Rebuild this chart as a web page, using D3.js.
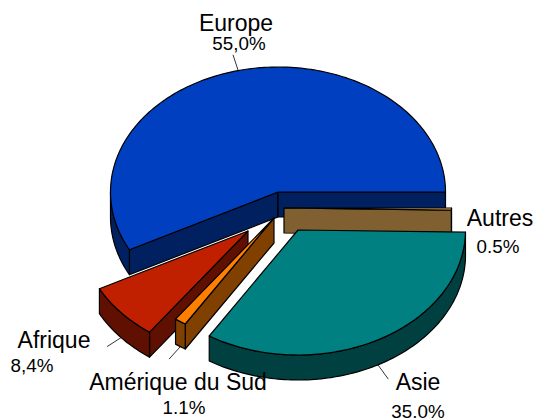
<!DOCTYPE html>
<html><head><meta charset="utf-8">
<script src="https://cdn.jsdelivr.net/npm/d3@7"></script>
<style>html,body{margin:0;padding:0;background:#fff}svg{display:block}text{font-family:"Liberation Sans",Arial,sans-serif;fill:#000}</style>
</head><body><svg id="c" width="534" height="418"></svg>
<script>
// Data (clockwise from 3 o'clock)
const categories = ["Autres","Asie","Amérique du Sud","Afrique","Europe"];
const values = [0.5,35.0,1.1,8.4,55.0];
const valueLabels = ["0.5%","35.0%","1.1%","8,4%","55,0%"];
const topColors = ["#ffc060","#008080","#ff8000","#c02000","#0040c0"];
const sideColors = ["#806030","#004040","#804000","#601000","#002060"];

// Layout
const W=534,H=418,rx=167.5,ry=125,depth=25;
const apexX=[284,298,274,248,278], apexY=[208,230,218,231,192];
const labelX=[500,418,178,54,236], labelY=[226,390,390,347.5,31];
const pctX=[498,418,184,32,239], pctY=[253,418,414,372,50];
const leaderScale=[1.02,1.13,1.12,1.11,1.13];
// the chart's 3-D tilt squeezes the projected slice angles slightly
const tiltDeg=[0,1,122,126,152.5,360];

const svg=d3.select("#c");
const pie=d3.pie().sort(null).value(d=>d)(values);
const cum=[0,...pie.map(p=>p.endAngle)];
const proj=d3.scaleLinear().domain(cum).range(tiltDeg.map(d=>d*Math.PI/180));
const pt=(i,a,dy=0)=>[apexX[i]+rx*Math.cos(a),apexY[i]+ry*Math.sin(a)+dy];
const line=d3.line();
function arcPts(i,a0,a1,dy=0){const n=Math.max(2,Math.ceil((a1-a0)/0.02));
  return d3.range(n+1).map(k=>pt(i,a0+(a1-a0)*k/n,dy));}

const slices=pie.map((p,i)=>({i,a0:proj(p.startAngle),a1:proj(p.endAngle)}));
const order=[4,0,3,2,1];
const stroke={stroke:"#000","stroke-width":1.2,"stroke-linejoin":"round"};
function draw(sel,d,fill){const e=sel.append("path").attr("d",d).attr("fill",fill);
  Object.entries(stroke).forEach(([k,v])=>e.attr(k,v));return e;}

// leader lines
slices.forEach(s=>{const m=(s.a0+s.a1)/2,i=s.i;
  const dy=Math.sin(m)>0?depth:0,k=leaderScale[i];
  const a=pt(i,m,dy);
  const b=[apexX[i]+rx*k*Math.cos(m),apexY[i]+ry*k*Math.sin(m)+dy];
  svg.append("line").attr("x1",a[0]).attr("y1",a[1]).attr("x2",b[0]).attr("y2",b[1])
    .attr("stroke","#000").attr("stroke-width",0.8);
});

order.forEach(i=>{const s=slices[i],g=svg.append("g");
  const ax=apexX[i],ay=apexY[i],side=sideColors[i];
  // radial walls: only those facing the viewer
  [[s.a0,Math.cos(s.a0)<-1e-6],[s.a1,Math.cos(s.a1)>1e-6]].forEach(([a,vis])=>{
    if(!vis)return;const r=pt(i,a),b=pt(i,a,depth);
    draw(g,line([[ax,ay],r,b,[ax,ay+depth]])+"Z",side);
  });
  // outer wall over the front half of the rim
  const lo=Math.max(s.a0,0),hi=Math.min(s.a1,Math.PI);
  if(hi>lo){const top=arcPts(i,lo,hi),bot=arcPts(i,lo,hi,depth).reverse();
    draw(g,line(top.concat(bot))+"Z",side);}
  // top face
  draw(g,line([[ax,ay],...arcPts(i,s.a0,s.a1)])+"Z",topColors[i]);
});

categories.forEach((c,i)=>{
  svg.append("text").attr("x",labelX[i]).attr("y",labelY[i]).attr("text-anchor","middle").attr("font-size",23).text(c);
  svg.append("text").attr("x",pctX[i]).attr("y",pctY[i]).attr("text-anchor","middle").attr("font-size",18.8).text(valueLabels[i]);
});
</script></body></html>
